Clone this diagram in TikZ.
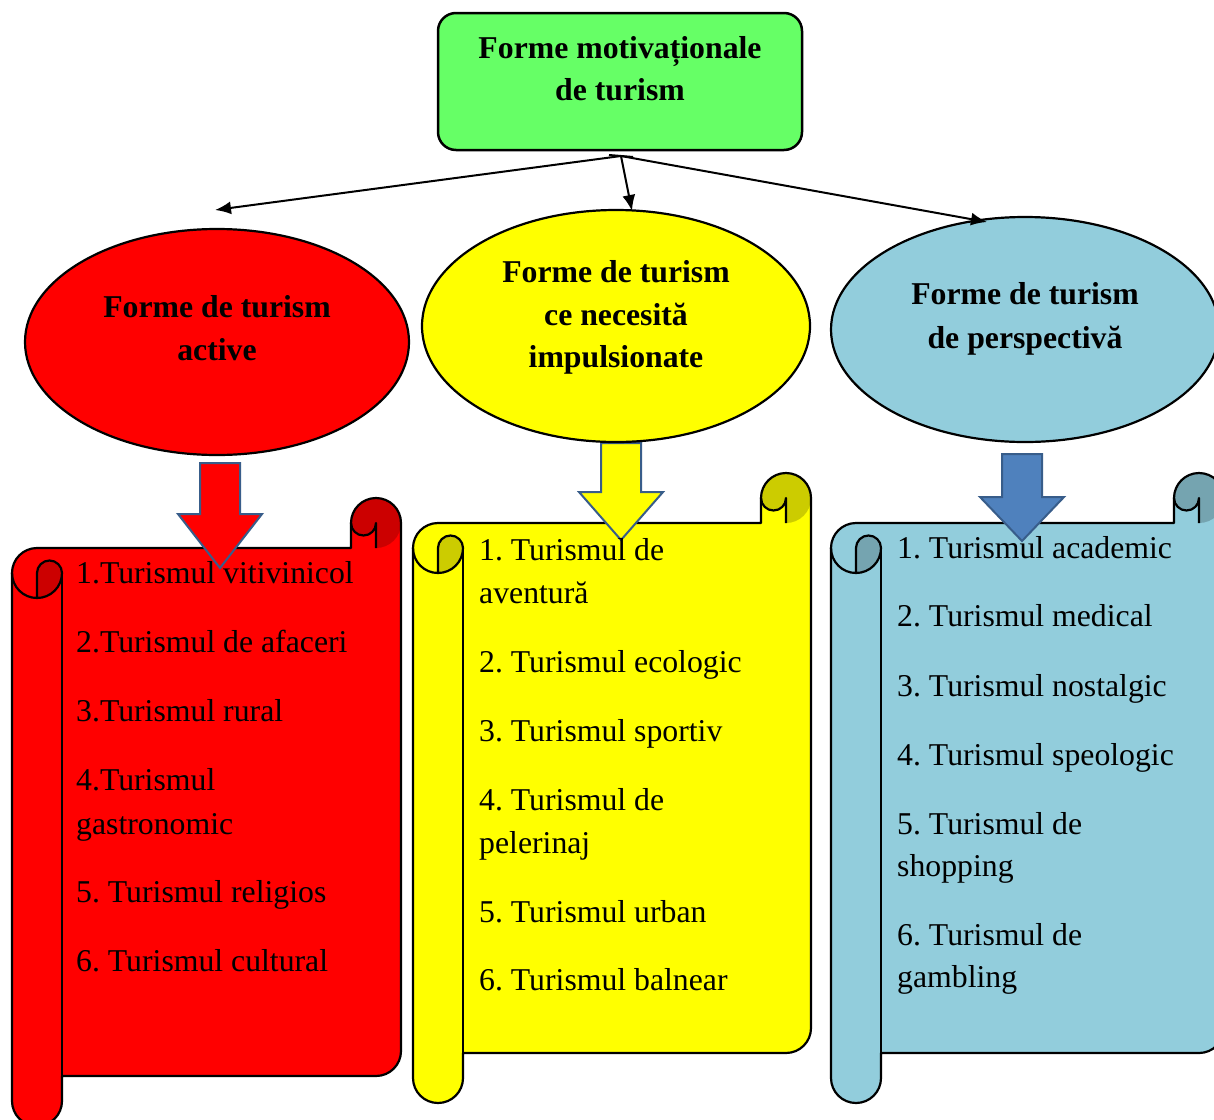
\documentclass[tikz,border=0pt]{standalone}
\usepackage{fontspec}
\setmainfont{Liberation Serif}
\usetikzlibrary{shapes.geometric,arrows.meta}
\frenchspacing

\definecolor{boxgreen}{HTML}{66FF66}
\definecolor{actred}{HTML}{FF0000}
\definecolor{actreddark}{HTML}{CC0000}
\definecolor{impyellow}{HTML}{FFFF00}
\definecolor{impyellowdark}{HTML}{CCCC00}
\definecolor{perspblue}{HTML}{92CDDC}
\definecolor{perspbluedark}{HTML}{75A4B0}
\definecolor{arrowblue}{HTML}{4F81BD}
\definecolor{arrowedge}{HTML}{385D8A}

% Scroll banner: #1 left, #2 top of the upper curl, #3 right, #4 bottom of the left roll,
% #5 main colour, #6 shaded colour of the curls
\newcommand\scrollbanner[6]{%
  \def\sL{#1}\def\sT{#2}\def\sR{#3}\def\sB{#4}%
  \fill[#5] (\sL+25,\sT+50) -- (\sR-50,\sT+50) -- (\sR-50,\sT+25)
    arc[start angle=180,end angle=360,radius=25] -- (\sR,\sB-75)
    arc[start angle=0,end angle=90,radius=25] -- (\sL+50,\sB-50) -- (\sL+50,\sB-25)
    arc[start angle=0,end angle=180,radius=25] -- (\sL,\sT+75)
    arc[start angle=180,end angle=270,radius=25] -- cycle;
  % shaded inner side of the two curls
  \fill[#6] (\sL+25,\sT+100) arc[start angle=90,end angle=0,radius=25]
    arc[start angle=0,end angle=-180,radius=12.5] -- cycle;
  \fill[#6] (\sR-25,\sT+50) arc[start angle=90,end angle=-180,radius=25]
    arc[start angle=180,end angle=0,radius=12.5] -- cycle;
  % outline
  \draw[scrolledge] (\sL+25,\sT+50) -- (\sR-50,\sT+50) -- (\sR-50,\sT+25)
    arc[start angle=180,end angle=360,radius=25] -- (\sR,\sB-75)
    arc[start angle=0,end angle=90,radius=25] -- (\sL+50,\sB-50) -- (\sL+50,\sB-25)
    arc[start angle=0,end angle=180,radius=25] -- (\sL,\sT+75)
    arc[start angle=180,end angle=270,radius=25] -- cycle;
  % curl lines and the inner edge of the left roll
  \draw[scrolledge] (\sL+25,\sT+100) -- (\sL+25,\sT+75)
    arc[start angle=180,end angle=360,radius=12.5]
    arc[start angle=0,end angle=180,radius=25];
  \draw[scrolledge] (\sL+50,\sT+75) -- (\sL+50,\sB-50);
  \draw[scrolledge] (\sR-50,\sT+25) arc[start angle=180,end angle=0,radius=12.5]
    -- (\sR-25,\sT+50);
}

% Block arrow pointing down: #1 centre x, #2 top, #3 neck, #4 tip, #5 fill
\newcommand\blockdown[5]{%
  \filldraw[blockedge,fill=#5] (#1-20,#2) -- (#1+20,#2) -- (#1+20,#3) -- (#1+42,#3)
    -- (#1,#4) -- (#1-42,#3) -- (#1-20,#3) -- cycle;
}

\begin{document}
\begin{tikzpicture}[x=1pt,y=-1pt,
  scrolledge/.style={draw=black,line width=2.2pt,line join=round},
  blockedge/.style={draw=arrowedge,line width=2pt,line join=miter},
  oval/.style={ellipse,draw=black,line width=2.2pt,inner sep=0pt},
  titletext/.style={anchor=base,inner sep=0pt,font=\fontsize{31.75}{38}\selectfont\bfseries},
  itemtext/.style={anchor=base west,inner sep=0pt,font=\fontsize{31.75}{38}\selectfont},
  link/.style={line width=2pt,-{Latex[length=16pt,width=13pt]}}]
\useasboundingbox (0,0) rectangle (1214,1119);

% top box
\node[draw=black,line width=2.5pt,fill=boxgreen,rounded corners=18pt,
  minimum width=364pt,minimum height=137pt,inner sep=0pt] (top) at (620,81.5) {};
\node[titletext] (top1) at (620,58) {Forme motivaționale};
\node[titletext] (top2) at (620,100) {de turism};

% scrolls
\scrollbanner{12}{498}{401}{1126}{actred}{actreddark}
\scrollbanner{413}{473}{811}{1103}{impyellow}{impyellowdark}
\scrollbanner{831}{473}{1224}{1103}{perspblue}{perspbluedark}

% block arrows
\blockdown{220}{463}{514}{568}{actred}
\blockdown{621}{443}{492}{540}{impyellow}
\blockdown{1022}{454}{497}{541}{arrowblue}

% ovals
\node[oval,fill=actred,minimum width=384pt,minimum height=226pt] (active) at (217,342) {};
\node[oval,fill=impyellow,minimum width=388pt,minimum height=232pt] (impuls) at (616,326) {};
\node[oval,fill=perspblue,minimum width=388pt,minimum height=225pt] (persp) at (1025,329.5) {};

\node[titletext] (a1) at (217,317) {Forme de turism};
\node[titletext] (a2) at (217,360) {active};
\node[titletext] (i1) at (616,282) {Forme de turism};
\node[titletext] (i2) at (616,325) {ce necesită};
\node[titletext] (i3) at (616,367) {impulsionate};
\node[titletext] (p1) at (1025,304) {Forme de turism};
\node[titletext] (p2) at (1025,348) {de perspectivă};

% connectors
\coordinate (hub) at (621,156);
\coordinate (hubL) at (609,155);
\coordinate (hubR) at (633,157);
\coordinate (endA) at (215,210);
\coordinate (endI) at (632,211);
\coordinate (endP) at (987,222);
\draw[line width=2pt] (hubL) -- (hubR);
\draw[link] (hub) -- (endA);
\draw[link] (hub) -- (endI);
\draw[link] (hub) -- (endP);

% red list
\node[itemtext] (r1) at (76,583) {1.Turismul vitivinicol};
\node[itemtext] (r2) at (76,652) {2.Turismul de afaceri};
\node[itemtext] (r3) at (76,721) {3.Turismul rural};
\node[itemtext] (r4) at (76,790) {4.Turismul};
\node[itemtext] (r4b) at (76,834) {gastronomic};
\node[itemtext] (r5) at (76,902) {5. Turismul religios};
\node[itemtext] (r6) at (76,971) {6. Turismul cultural};

% yellow list
\node[itemtext] (y1) at (479,560) {1. Turismul de};
\node[itemtext] (y1b) at (479,603) {aventură};
\node[itemtext] (y2) at (479,672) {2. Turismul ecologic};
\node[itemtext] (y3) at (479,741) {3. Turismul sportiv};
\node[itemtext] (y4) at (479,810) {4. Turismul de};
\node[itemtext] (y4b) at (479,853) {pelerinaj};
\node[itemtext] (y5) at (479,922) {5. Turismul urban};
\node[itemtext] (y6) at (479,990) {6. Turismul balnear};

% blue list
\node[itemtext] (b1) at (897,558) {1. Turismul academic};
\node[itemtext] (b2) at (897,626) {2. Turismul medical};
\node[itemtext] (b3) at (897,696) {3. Turismul nostalgic};
\node[itemtext] (b4) at (897,765) {4. Turismul speologic};
\node[itemtext] (b5) at (897,834) {5. Turismul de};
\node[itemtext] (b5b) at (897,876) {shopping};
\node[itemtext] (b6) at (897,945) {6. Turismul de};
\node[itemtext] (b6b) at (897,987) {gambling};
\end{tikzpicture}
\end{document}
